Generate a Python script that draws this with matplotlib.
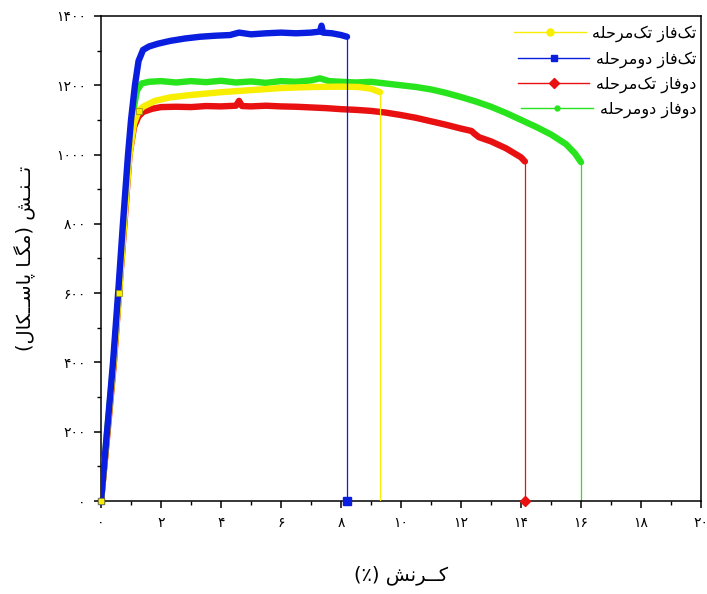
import matplotlib
matplotlib.use("Agg")
import matplotlib.pyplot as plt
from matplotlib.lines import Line2D
from matplotlib.ticker import MultipleLocator, FuncFormatter

# ---------------- data ----------------
blue_strain = [0, 0.2, 0.4, 0.57, 0.73, 0.9, 1.0, 1.13, 1.25, 1.4, 1.6, 1.9, 2.3, 2.8,
               3.3, 3.8, 4.3, 4.6, 5.0, 5.5, 6.0, 6.5, 7.0, 7.3, 7.35, 7.4, 7.7, 8.0, 8.2]
blue_stress = [0, 200, 400, 600, 800, 1000, 1100, 1200, 1270, 1302, 1312, 1320, 1328, 1335,
               1340, 1343, 1345, 1352, 1347, 1350, 1352, 1350, 1352, 1355, 1372, 1352, 1350, 1345, 1340]

yellow_strain = [0, 0.21, 0.42, 0.6, 0.77, 0.95, 1.1, 1.25, 1.4, 1.8, 2.3, 3.0, 4.0, 5.0,
                 6.0, 7.0, 8.0, 8.6, 9.0, 9.3]
yellow_stress = [0, 200, 400, 600, 800, 1000, 1090, 1125, 1138, 1155, 1165, 1172, 1180, 1186,
                 1192, 1195, 1196, 1195, 1190, 1180]

green_strain = [0, 0.2, 0.42, 0.59, 0.76, 0.93, 1.08, 1.2, 1.35, 1.6, 2.0, 2.5, 3.0, 3.5,
                4.0, 4.5, 5.0, 5.5, 6.0, 6.5, 7.0, 7.3, 7.6, 8.0, 8.5, 9.0, 9.5, 10.0, 10.5,
                11.0, 11.5, 12.0, 12.5, 13.0, 13.5, 14.0, 14.5, 15.0, 15.5, 15.8, 16.0]
green_stress = [0, 195, 400, 600, 800, 1000, 1130, 1185, 1205, 1210, 1212, 1208, 1212, 1209,
                1213, 1208, 1211, 1207, 1212, 1210, 1214, 1220, 1212, 1210, 1208, 1210, 1205,
                1200, 1195, 1188, 1178, 1166, 1153, 1138, 1120, 1100, 1080, 1058, 1030, 1003, 978]

red_strain = [0, 0.22, 0.43, 0.6, 0.78, 0.95, 1.1, 1.25, 1.4, 1.7, 2.0, 2.5, 3.0, 3.5, 4.0,
              4.5, 4.6, 4.7, 5.0, 5.5, 6.0, 6.5, 7.0, 7.5, 8.0, 8.5, 9.0, 9.5, 10.0, 10.5,
              11.0, 11.5, 12.0, 12.35, 12.45, 12.6, 13.0, 13.5, 14.0, 14.13]
red_stress = [0, 200, 400, 600, 800, 1000, 1080, 1110, 1123, 1132, 1137, 1138, 1137, 1140, 1139,
              1141, 1155, 1140, 1139, 1141, 1139, 1138, 1136, 1134, 1131, 1129, 1126, 1121, 1114,
              1106, 1096, 1086, 1075, 1068, 1060, 1050, 1038, 1018, 992, 980]

labels = ["تک‌فاز تک‌مرحله", "تک‌فاز دومرحله", "دوفاز تک‌مرحله", "دوفاز دومرحله"]
x_label = "کــرنش (٪)"
y_label = "تــنـش (مگـا پاســکال)"
x_ticks = list(range(0, 21, 2))
y_ticks = list(range(0, 1401, 200))

# ---------------- simple Persian shaping (presentation forms) ----------------
DUAL = {
    'ت': ('\uFE95', '\uFE96', '\uFE97', '\uFE98'),
    'ن': ('\uFEE5', '\uFEE6', '\uFEE7', '\uFEE8'),
    'ش': ('\uFEB5', '\uFEB6', '\uFEB7', '\uFEB8'),
    'م': ('\uFEE1', '\uFEE2', '\uFEE3', '\uFEE4'),
    'س': ('\uFEB1', '\uFEB2', '\uFEB3', '\uFEB4'),
    'ل': ('\uFEDD', '\uFEDE', '\uFEDF', '\uFEE0'),
    'ف': ('\uFED1', '\uFED2', '\uFED3', '\uFED4'),
    'ح': ('\uFEA1', '\uFEA2', '\uFEA3', '\uFEA4'),
    'ه': ('\uFEE9', '\uFEEA', '\uFEEB', '\uFEEC'),
    'پ': ('\uFB56', '\uFB57', '\uFB58', '\uFB59'),
    'ک': ('\uFB8E', '\uFB8F', '\uFB90', '\uFB91'),
    'گ': ('\uFB92', '\uFB93', '\uFB94', '\uFB95'),
}
RIGHT = {
    'ا': ('\uFE8D', '\uFE8E'),
    'ر': ('\uFEAD', '\uFEAE'),
    'ز': ('\uFEAF', '\uFEB0'),
    'د': ('\uFEA9', '\uFEAA'),
    'و': ('\uFEED', '\uFEEE'),
}
TATWEEL = 'ـ'


def _can_join_next(c):
    return c in DUAL or c == TATWEEL


def _is_joining(c):
    return c in DUAL or c in RIGHT or c == TATWEEL


def fa(s):
    chars = list(s)
    n = len(chars)
    res = []
    i = 0
    while i < n:
        c = chars[i]
        prev = chars[i - 1] if i > 0 else None
        nxt = chars[i + 1] if i + 1 < n else None
        jp = prev is not None and _can_join_next(prev) and _is_joining(c)
        if c == 'ل' and nxt == 'ا':
            res.append('\uFEFC' if jp else '\uFEFB')
            i += 2
            continue
        jn = nxt is not None and _can_join_next(c) and _is_joining(nxt)
        if c == TATWEEL:
            res.append(c)
        elif c in DUAL:
            iso, fin, ini, med = DUAL[c]
            res.append(med if (jp and jn) else fin if jp else ini if jn else iso)
        elif c in RIGHT:
            iso, fin = RIGHT[c]
            res.append(fin if jp else iso)
        elif c == '\u200c':
            pass
        else:
            res.append(c)
        i += 1
    vis = ''.join(res)[::-1]
    return vis.translate(str.maketrans('()', ')('))


PDIG = str.maketrans('0123456789', '۰۱۲۳۴۵۶۷۸۹')


def fa_num(v, pos=None):
    return str(int(round(v))).translate(PDIG)


# ---------------- figure ----------------
plt.rcParams['font.family'] = ['DejaVu Sans']

fig = plt.figure(figsize=(7.07, 5.94), dpi=100)
ax = fig.add_axes([0.1429, 0.1566, 0.8486, 0.8165])

c_yellow = '#f7ee00'
c_blue = '#0a1ee0'
c_red = '#e81010'
c_green = '#28e41c'

series = [
    (green_strain, green_stress, c_green, 1),
    (red_strain, red_stress, c_red, 2),
    (yellow_strain, yellow_stress, c_yellow, 3),
    (blue_strain, blue_stress, c_blue, 4),
]
for xs, ys, col, z in series:
    ax.plot(xs, ys, color=col, lw=4.6, solid_capstyle='round', solid_joinstyle='round', zorder=z)
    # fracture drop to zero
    ax.plot([xs[-1], xs[-1]], [ys[-1], 0], color=col, lw=0.9, zorder=z)

# end markers at zero stress
ax.plot([blue_strain[-1]], [0], marker='s', ms=6, color=c_blue, ls='none', zorder=6, clip_on=False)
ax.plot([red_strain[-1]], [0], marker='D', ms=5.5, color=c_red, ls='none', zorder=6, clip_on=False)
ax.plot([blue_strain[0]], [blue_stress[0]], marker='s', ms=5, color=c_blue, ls='none', zorder=6, clip_on=False)
# yellow markers visible on the elastic part
ax.plot(yellow_strain, yellow_stress, ls='none', marker='s', ms=4, mfc=c_yellow, mec='#8a8a20',
        mew=0.5, markevery=[0, 3, 7], zorder=7, clip_on=False)

ax.set_xlim(0, 20)
ax.set_ylim(0, 1400)
ax.set_xticks(x_ticks)
ax.set_yticks(y_ticks)
ax.xaxis.set_minor_locator(MultipleLocator(1))
ax.yaxis.set_minor_locator(MultipleLocator(100))
ax.xaxis.set_major_formatter(FuncFormatter(fa_num))
ax.yaxis.set_major_formatter(FuncFormatter(fa_num))
ax.tick_params(which='major', direction='out', length=5, width=1.1, labelsize=10, pad=6)
ax.tick_params(which='minor', direction='out', length=3, width=1.0)
ax.tick_params(top=False, right=False, which='both')
for sp in ax.spines.values():
    sp.set_linewidth(1.1)

ax.set_xlabel(fa(x_label), fontsize=14, labelpad=25)
ax.set_ylabel(fa(y_label), fontsize=14, labelpad=14)

handles = [
    Line2D([], [], color=c_yellow, lw=1, marker='o', ms=5),
    Line2D([], [], color=c_blue, lw=1, marker='s', ms=5),
    Line2D([], [], color=c_red, lw=1, marker='D', ms=5),
    Line2D([], [], color=c_green, lw=1, marker='o', ms=3.5),
]
leg = ax.legend(handles, [fa(l) for l in labels], loc='upper right', bbox_to_anchor=(1.008, 1.0),
                frameon=False, fontsize=11.5, handlelength=4.5, handletextpad=0.4,
                labelspacing=0.55, borderaxespad=0.2, numpoints=1)
try:
    for col in leg._legend_handle_box.get_children():
        col.align = 'right'
except Exception:
    pass

fig.savefig('out.png', dpi=100)
